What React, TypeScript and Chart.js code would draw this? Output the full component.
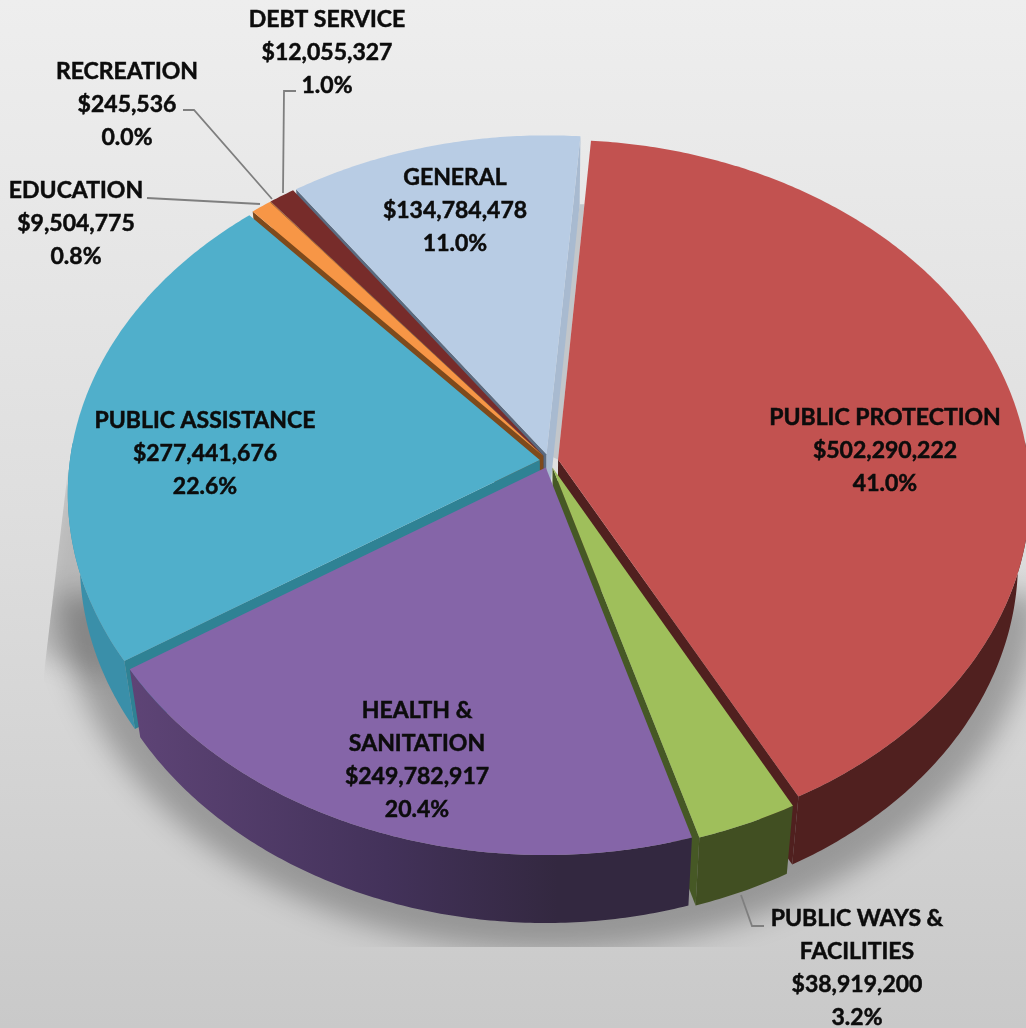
import React, { useEffect, useRef } from "react";
import { Chart, registerables } from "chart.js";

Chart.register(...registerables);

// ---- data ----
const categories = ["PUBLIC PROTECTION", "PUBLIC WAYS & FACILITIES", "HEALTH & SANITATION", "PUBLIC ASSISTANCE", "EDUCATION", "RECREATION", "DEBT SERVICE", "GENERAL"];
const amounts = [502290222, 38919200, 249782917, 277441676, 9504775, 245536, 12055327, 134784478];
const percents = ["41.0%", "3.2%", "20.4%", "22.6%", "0.8%", "0.0%", "1.0%", "11.0%"];

// ---- styles ----
const topColors = ["#c25250", "#9fbf5b", "#8565a8", "#50afcb", "#f79646", "#f79646", "#772c2a", "#b8cce4"];
const outerWall = ["#50201f", "#414f22", "#4a3760", "#3a8fa9", "#7e4a1c", "#7e4a1c", "#4a2020", "#7d92ad"];
const startWall = ["#50201f", "#414f22", "#4a3760", "#2f8294", "#7e4a1c", "#7e4a1c", "#5a4a4a", "#5b6b80"];
const endWall = ["#50201f", "#465825", "#4a3760", "#2f8294", "#7e4a1c", "#7e4a1c", "#5a4a4a", "#a8bad0"];
const cutOrder = [7, 6, 5, 4, 3, 2, 0, 1];
const labelLines: string[][] = [
  ["PUBLIC PROTECTION"], ["PUBLIC WAYS &", "FACILITIES"], ["HEALTH &", "SANITATION"], ["PUBLIC ASSISTANCE"],
  ["EDUCATION"], ["RECREATION"], ["DEBT SERVICE"], ["GENERAL"],
];
const labelCenters = [[885, 418], [857, 919], [417, 711], [205, 421], [76, 191], [127, 72], [327, 20], [455, 178]];
const leaders: number[][][] = [
  [[147, 198], [260, 204]],
  [[183, 110], [194, 110], [272, 199]],
  [[296, 91], [284, 91], [283, 193]],
  [[741, 895], [752, 926], [764, 926]],
];
const view = { cx: 549, cy: 461, a: 470, b: 350, k: 0.0935, floorScale: 0.975, floorDrop: 68 };
const lineGap = 33;

type P = [number, number];
const project = (u: number, v: number): P => {
  const w = 1 - view.k * v;
  return [view.cx + (view.a * u) / w, view.cy + (view.b * v) / w];
};
const floor = (p: P): P => [view.cx + view.floorScale * (p[0] - view.cx), p[1] + view.floorDrop];
const poly = (ctx: CanvasRenderingContext2D, pts: P[], fill: any) => {
  ctx.beginPath();
  pts.forEach((p, i) => (i ? ctx.lineTo(p[0], p[1]) : ctx.moveTo(p[0], p[1])));
  ctx.closePath();
  ctx.fillStyle = fill;
  ctx.fill();
};
const cross = (a: P, b: P) => a[0] * b[1] - a[1] * b[0];

const pie3d = {
  id: "pie3d",
  beforeDraw(chart: any) {
    const { ctx, width, height } = chart;
    const bg = ctx.createLinearGradient(0, 0, 0, height);
    bg.addColorStop(0, "#eeeeee");
    bg.addColorStop(0.5, "#dedede");
    bg.addColorStop(1, "#c9c9c9");
    ctx.fillStyle = bg;
    ctx.fillRect(0, 0, width, height);
  },
  beforeDatasetDraw(chart: any) {
    const { ctx } = chart;
    const arcs = chart.getDatasetMeta(0).data;
    // soft floor shadow
    const ring: P[] = [];
    for (let d = 0; d < 360; d += 3) {
      const r = (d * Math.PI) / 180;
      const p = floor(project(Math.cos(r) * 1.07, Math.sin(r) * 1.07));
      if (p[1] > 580) ring.push([p[0], p[1] + 6]);
    }
    ctx.save();
    ctx.beginPath();
    ctx.moveTo(68, 470);
    ctx.lineTo(42, 690);
    ctx.lineTo(42, 947);
    ctx.lineTo(1026, 947);
    ctx.lineTo(1026, 470);
    ctx.closePath();
    ctx.clip();
    ctx.filter = "blur(14px)";
    poly(ctx, ring, "rgba(0,0,0,0.27)");
    ctx.filter = "blur(12px)";
    poly(ctx, [[60, 480], [30, 650], [110, 680], [110, 480]], "rgba(0,0,0,0.16)");
    ctx.restore();

    const slices = arcs.map((arc: any, i: number) => {
      const { startAngle, endAngle, outerRadius } = arc.getProps(["startAngle", "endAngle", "outerRadius"], true);
      const mid = (startAngle + endAngle) / 2;
      const off = (arc.options.offset || 0) / outerRadius;
      const ou = off * Math.cos(mid);
      const ov = off * Math.sin(mid);
      const steps = Math.max(2, Math.ceil((endAngle - startAngle) / 0.01));
      const angs: number[] = [];
      for (let s = 0; s <= steps; s++) angs.push(startAngle + ((endAngle - startAngle) * s) / steps);
      const rim = angs.map((t) => project(ou + Math.cos(t), ov + Math.sin(t)));
      const apex = project(ou, ov);
      const midRim = project(ou + Math.cos(mid), ov + Math.sin(mid));
      return { i, angs, rim, apex, midRim };
    });

    // floor seen through the gap between the last and first slice
    {
      const last = slices[slices.length - 1];
      const first = slices[0];
      const corner = floor(last.rim[last.rim.length - 1]);
      const e = first.rim[0];
      const f = (corner[1] - first.apex[1]) / (e[1] - first.apex[1]);
      poly(ctx, [corner, last.apex, first.apex, [first.apex[0] + f * (e[0] - first.apex[0]), corner[1]]], "#c2c6ca");
    }

    // cut walls
    cutOrder.forEach((idx) => {
      const { i, rim, apex, midRim } = slices[idx];
      const toMid: P = [midRim[0] - apex[0], midRim[1] - apex[1]];
      [
        [rim[0], startWall[i]],
        [rim[rim.length - 1], endWall[i]],
      ].forEach(([edge, colour]: any) => {
        const e: P = [edge[0] - apex[0], edge[1] - apex[1]];
        if (Math.sign(cross(e, toMid)) !== Math.sign(cross(e, [0, 1]))) {
          poly(ctx, [apex, edge, floor(edge), floor(apex)], colour);
        }
      });
    });

    // outer walls
    slices.forEach(({ i, angs, rim }: any) => {
      let fill: any = outerWall[i];
      if (i === 2) {
        const g = ctx.createLinearGradient(130, 0, 700, 0);
        g.addColorStop(0, "#5e4476");
        g.addColorStop(0.45, "#43325a");
        g.addColorStop(0.75, "#332840");
        g.addColorStop(1, "#332840");
        fill = g;
      }
      const front: P[] = [];
      const back: P[] = [];
      angs.forEach((t: number, n: number) => {
        if (Math.sin(t) > -0.06) {
          front.push(rim[n]);
          back.unshift(floor(rim[n]));
        }
      });
      if (front.length > 1) poly(ctx, [...front, ...back], fill);
    });

    // top faces
    slices.forEach(({ i, rim, apex }: any) => {
      poly(ctx, [apex, ...rim], topColors[i]);
    });
    return false;
  },
  afterDatasetsDraw(chart: any) {
    const { ctx } = chart;
    ctx.save();
    ctx.strokeStyle = "#7f7f7f";
    ctx.lineWidth = 1.8;
    leaders.forEach((line) => {
      ctx.beginPath();
      line.forEach((p, i) => (i ? ctx.lineTo(p[0], p[1]) : ctx.moveTo(p[0], p[1])));
      ctx.stroke();
    });
    ctx.fillStyle = "#0c0c0c";
    ctx.strokeStyle = "#0c0c0c";
    ctx.lineWidth = 0.5;
    ctx.textAlign = "center";
    ctx.textBaseline = "middle";
    ctx.font = "700 23px Lato";
    categories.forEach((_, i) => {
      const lines = [...labelLines[i], "$" + amounts[i].toLocaleString("en-US"), percents[i]];
      const [x, y] = labelCenters[i];
      lines.forEach((t, n) => {
        ctx.fillText(t, x, y + n * lineGap);
        ctx.strokeText(t, x, y + n * lineGap);
      });
    });
    ctx.restore();
  },
};

export default function App() {
  const ref = useRef<HTMLCanvasElement>(null);
  useEffect(() => {
    document.body.style.margin = "0";
    const chart = new Chart(ref.current!, {
      type: "pie",
      data: {
        labels: categories,
        datasets: [{ data: amounts, backgroundColor: topColors, borderWidth: 0, offset: 10 }],
      },
      options: {
        responsive: false,
        animation: false,
        rotation: 4.5,
        plugins: { legend: { display: false }, tooltip: { enabled: false } },
      },
      plugins: [pie3d],
    } as any);
    return () => chart.destroy();
  }, []);
  return <canvas ref={ref} width={1026} height={1028} style={{ display: "block" }} />;
}
